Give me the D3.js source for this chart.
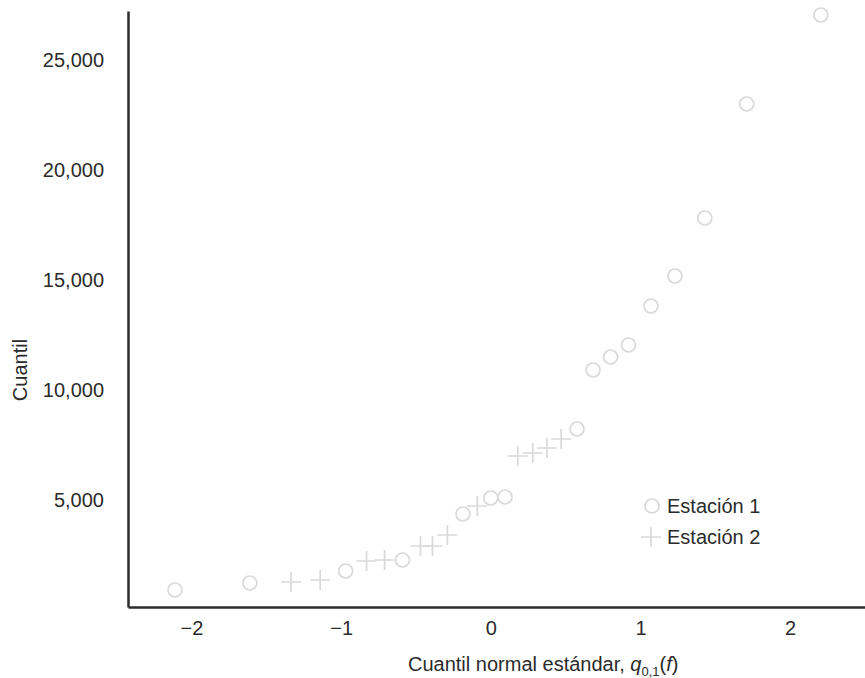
<!DOCTYPE html>
<html>
<head>
<meta charset="utf-8">
<script src="https://cdn.jsdelivr.net/npm/d3@7"></script>
<style>
  html, body { margin: 0; padding: 0; background: #fff; }
  svg { display: block; }
  text { font-family: "Liberation Sans", Arial, Helvetica, sans-serif; fill: #2b2b2b; }
</style>
</head>
<body>
<svg id="chart" width="865" height="678"></svg>
<script>
// ---- data ----
const station1Q = [-2.11, -1.61, -0.97, -0.59, -0.186, 0.0, 0.095, 0.576, 0.683, 0.80, 0.92, 1.07, 1.23, 1.43, 1.71, 2.205];
const station1V = [909, 1227, 1773, 2273, 4364, 5091, 5136, 8227, 10909, 11500, 12045, 13818, 15182, 17818, 23000, 27045];
const station2Q = [-1.335, -1.14, -0.83, -0.71, -0.47, -0.39, -0.29, -0.09, 0.18, 0.28, 0.375, 0.47];
const station2V = [1273, 1364, 2227, 2273, 2909, 2909, 3409, 4727, 7000, 7136, 7364, 7773];
const xTicks = [-2, -1, 0, 1, 2];
const yTicks = [5000, 10000, 15000, 20000, 25000];
const seriesNames = ["Estación 1", "Estación 2"];

// ---- layout ----
const plotLeft = 128, plotRight = 865, plotTop = 11, plotBottom = 607;
const markColor = "#d9d9d9";
const axisColor = "#2b2b2b";
const fontSize = 20;

const svg = d3.select("#chart");

const x = d3.scaleLinear().domain([-2.424, 2.5]).range([plotLeft, plotRight]);
const y = d3.scaleLinear().domain([136, 27227]).range([plotBottom, plotTop]);

// axes
const xAxis = d3.axisBottom(x).tickValues(xTicks).tickSize(0).tickPadding(14)
  .tickFormat(d => d < 0 ? "\u2212" + Math.abs(d) : String(d));
const yAxis = d3.axisLeft(y).tickValues(yTicks).tickSize(0).tickPadding(24)
  .tickFormat(d3.format(","));

const gx = svg.append("g").attr("transform", `translate(0,${plotBottom})`).call(xAxis);
const gy = svg.append("g").attr("transform", `translate(${plotLeft},0)`).call(yAxis);

[gx, gy].forEach(g => {
  g.select(".domain").attr("stroke", axisColor).attr("stroke-width", 2.5);
  g.selectAll("text").attr("font-size", fontSize).attr("fill", axisColor)
    .attr("font-family", '"Liberation Sans", Arial, Helvetica, sans-serif');
});

// points
const s1 = station1Q.map((q, i) => ({q, v: station1V[i]}));
const s2 = station2Q.map((q, i) => ({q, v: station2V[i]}));

const plus = (cx, cy, h) => `M${cx - h},${cy}H${cx + h}M${cx},${cy - h}V${cy + h}`;

svg.append("g").selectAll("path").data(s2).join("path")
  .attr("d", d => plus(x(d.q), y(d.v), 10))
  .attr("fill", "none").attr("stroke", markColor).attr("stroke-width", 1.7);

svg.append("g").selectAll("circle").data(s1).join("circle")
  .attr("cx", d => x(d.q)).attr("cy", d => y(d.v)).attr("r", 7)
  .attr("fill", "none").attr("stroke", markColor).attr("stroke-width", 1.7);

// legend
const rowGap = 31;
const lg = svg.append("g").attr("transform", "translate(651,506)");
lg.append("circle").attr("cx", 1).attr("cy", 0).attr("r", 7)
  .attr("fill", "none").attr("stroke", markColor).attr("stroke-width", 1.7);
lg.append("path").attr("d", plus(0, rowGap, 10))
  .attr("fill", "none").attr("stroke", markColor).attr("stroke-width", 1.7);
lg.selectAll("text.leg").data(seriesNames).join("text").attr("class", "leg")
  .attr("x", 16).attr("y", (d, i) => i * rowGap).attr("dy", "0.35em")
  .attr("font-size", fontSize).text(d => d);

// axis titles
svg.append("text")
  .attr("transform", `translate(20,370) rotate(-90)`)
  .attr("text-anchor", "middle").attr("dy", "0.35em")
  .attr("font-size", fontSize).text("Cuantil");

const xt = svg.append("text").attr("x", 408).attr("y", 671).attr("font-size", fontSize);
xt.append("tspan").text("Cuantil normal estándar, ");
xt.append("tspan").attr("font-style", "italic").text("q");
xt.append("tspan").attr("font-size", 13).attr("dy", 5).text("0,1");
xt.append("tspan").attr("dy", -5).text("(");
xt.append("tspan").attr("font-style", "italic").text("f");
xt.append("tspan").text(")");
</script>
</body>
</html>
